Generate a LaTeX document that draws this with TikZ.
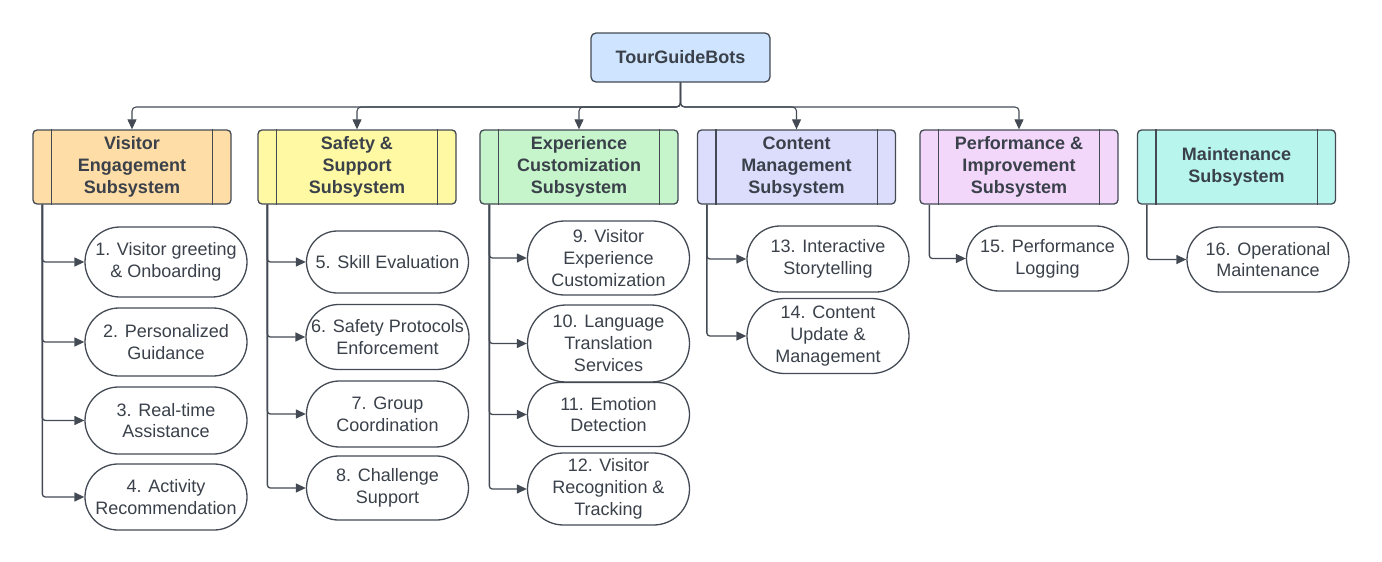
\documentclass[tikz,border=0pt]{standalone}
\usepackage{fontspec}
\setmainfont{Liberation Sans}
\usetikzlibrary{arrows.meta,shapes.misc}
\definecolor{ink}{HTML}{3A414A}
\definecolor{lineink}{HTML}{434A54}
\definecolor{rootfill}{HTML}{CFE4FF}
\definecolor{cA}{HTML}{FFDDA6}
\definecolor{cB}{HTML}{FFF9A3}
\definecolor{cC}{HTML}{C7F5CB}
\definecolor{cD}{HTML}{DCDDFD}
\definecolor{cE}{HTML}{F3D7FB}
\definecolor{cF}{HTML}{B8F5EC}
\tikzset{
  bodyfont/.style={font=\fontsize{18}{21.8}\selectfont},
  boldfont/.style={font=\fontsize{18}{21.8}\selectfont\bfseries},
  rootbox/.style={draw=lineink, line width=1.3pt, fill=rootfill, rounded corners=5pt,
    minimum width=179pt, minimum height=49pt, inner sep=0pt, boldfont, text=ink},
  subbox/.style={draw=lineink, line width=1.3pt, fill=#1, rounded corners=4pt,
    minimum width=198pt, minimum height=74pt, inner sep=0pt, align=center,
    boldfont, text=ink},
  leaf/.style={draw=lineink, line width=1.3pt, fill=white, rounded rectangle,
    minimum width=162pt, minimum height=#1, inner sep=0pt, align=center,
    bodyfont, text=ink},
  arr/.style={draw=lineink, line width=1.3pt, rounded corners=3pt,
    -{Triangle[length=10pt,width=9pt]}},
  toparr/.style={draw=lineink, line width=1.1pt, rounded corners=4pt,
    -{Triangle[length=10pt,width=9pt]}},
}
\begin{document}
\begin{tikzpicture}[x=1pt,y=-1pt]
\useasboundingbox (0,0) rectangle (1382,562);
% root
\node[rootbox] (root) at (680.5,57.5) {TourGuideBots};
% subsystems
\node[subbox=cA] (s1) at (132,167) {Visitor\\Engagement\\Subsystem};
\node[subbox=cB] (s2) at (357,167) {Safety \&\\Support\\Subsystem};
\node[subbox=cC] (s3) at (579,167) {Experience\\Customization\\Subsystem};
\node[subbox=cD] (s4) at (796.5,167) {Content\\Management\\Subsystem};
\node[subbox=cE] (s5) at (1019,167) {Performance \&\\Improvement\\Subsystem};
\node[subbox=cF] (s6) at (1236.5,167) {Maintenance\\Subsystem};
\foreach \s in {s1,s2,s3,s4,s5,s6}{
  \draw[lineink, line width=1.3pt] ([xshift=19pt]\s.north west) -- ([xshift=19pt]\s.south west);
  \draw[lineink, line width=1.3pt] ([xshift=-19pt]\s.north east) -- ([xshift=-19pt]\s.south east);
}
% top connectors
\coordinate (bus) at (680.5,107);
\foreach \s in {s1,s2,s3,s4,s5}{
  \draw[toparr] (root.south) -- (bus) -| (\s.north);
}
% leaves
\node[leaf=70pt] (l1) at (166,262) {1. Visitor greeting\\\& Onboarding};
\node[leaf=68pt] (l2) at (166,342) {2. Personalized\\Guidance};
\node[leaf=67pt] (l3) at (166,420.5) {3. Real-time\\Assistance};
\node[leaf=66pt] (l4) at (166,497) {4. Activity\\Recommendation};
\node[leaf=62pt] (l5) at (387.5,262) {5. Skill Evaluation};
\node[leaf=65pt] (l6) at (387.5,337) {6. Safety Protocols\\Enforcement};
\node[leaf=66pt] (l7) at (387.5,414) {7. Group\\Coordination};
\node[leaf=64pt] (l8) at (387.5,488) {8. Challenge\\Support};
\node[leaf=74pt] (l9) at (608.5,258) {9. Visitor\\Experience\\Customization};
\node[leaf=77pt] (l10) at (608.5,343.5) {10. Language\\Translation\\Services};
\node[leaf=64pt] (l11) at (608.5,414.5) {11. Emotion\\Detection};
\node[leaf=72pt] (l12) at (608.5,489) {12. Visitor\\Recognition \&\\Tracking};
\node[leaf=66pt] (l13) at (828,259) {13. Interactive\\Storytelling};
\node[leaf=75pt] (l14) at (828,336) {14. Content\\Update \&\\Management};
\node[leaf=65pt] (l15) at (1047.5,258.5) {15. Performance\\Logging};
\node[leaf=65pt] (l16) at (1268,259.5) {16. Operational\\Maintenance};
% branch connectors
\foreach \s/\l in {s1/l1,s1/l2,s1/l3,s1/l4,s2/l5,s2/l6,s2/l7,s2/l8,s3/l9,s3/l10,s3/l11,s3/l12,s4/l13,s4/l14,s5/l15,s6/l16}{
  \draw[arr] ([xshift=10pt]\s.south west) |- (\l.west);
}
\end{tikzpicture}
\end{document}
